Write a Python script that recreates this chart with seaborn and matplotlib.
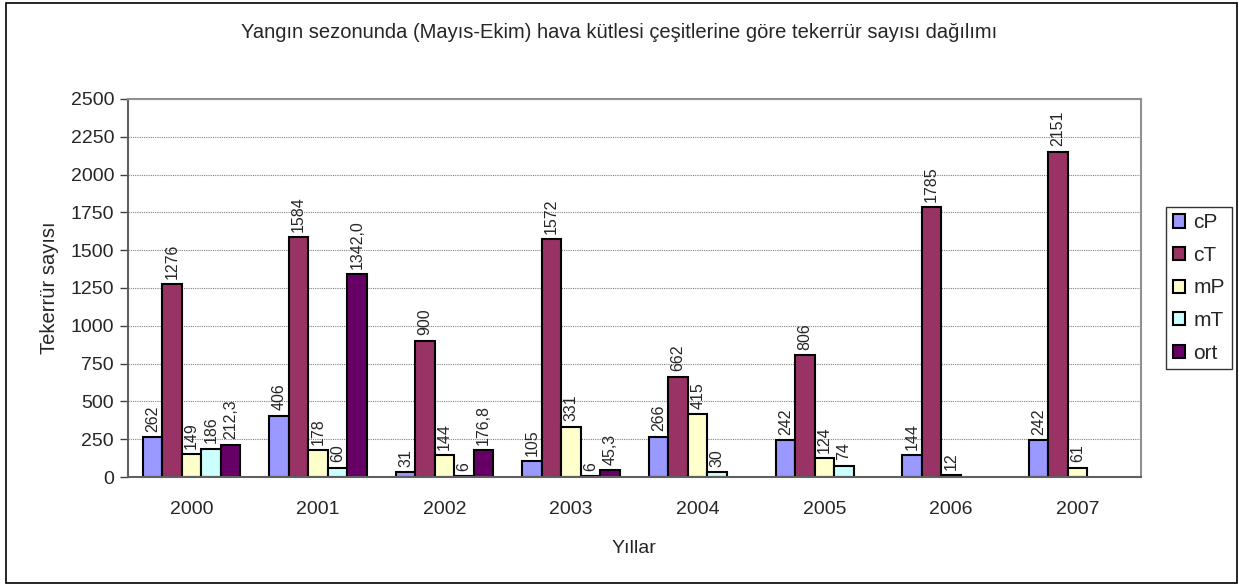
import numpy as np
import pandas as pd
import matplotlib
matplotlib.use("Agg")
import matplotlib.pyplot as plt
from matplotlib.patches import Rectangle
import seaborn as sns

years = ["2000", "2001", "2002", "2003", "2004", "2005", "2006", "2007"]
series = ["cP", "cT", "mP", "mT", "ort"]
cP = [262, 406, 31, 105, 266, 242, 144, 242]
cT = [1276, 1584, 900, 1572, 662, 806, 1785, 2151]
mP = [149, 178, 144, 331, 415, 124, 12, 61]
mT = [186, 60, 6, 6, 30, 74, np.nan, np.nan]
ort = [212.3, 1342.0, 176.8, 45.3, np.nan, np.nan, np.nan, np.nan]
colors = ["#9999FF", "#993366", "#FFFFCC", "#CCFFFF", "#660066"]

values = {"cP": cP, "cT": cT, "mP": mP, "mT": mT, "ort": ort}
rows = []
for s in series:
    for y, v in zip(years, values[s]):
        rows.append({"Yıl": y, "Seri": s, "Değer": v})
df = pd.DataFrame(rows)

sns.set_style("white")
plt.rcParams["font.family"] = ["Liberation Sans", "DejaVu Sans"]

fig = plt.figure(figsize=(12.39, 5.84), dpi=100)
ax = fig.add_axes([0.1033, 0.1832, 0.8175, 0.6473])

sns.barplot(data=df, x="Yıl", y="Değer", hue="Seri", order=years,
            hue_order=series, palette=colors, width=0.77, dodge=True,
            edgecolor="black", linewidth=1.5, errorbar=None, ax=ax,
            saturation=1)

for s, cont in zip(series, ax.containers):
    labels = []
    for p in cont.patches:
        h = p.get_height()
        if s == "ort":
            labels.append(f"{h:.1f}".replace(".", ","))
        else:
            labels.append(f"{int(round(h))}")
    ax.bar_label(cont, labels=labels, rotation=90, padding=4, fontsize=11.5)

ax.set_ylim(0, 2500)
ax.set_xlim(-0.5, 7.5)
ax.set_yticks(np.arange(0, 2501, 250))
ax.yaxis.grid(True, linestyle=(0, (1, 1)), color="#808080", linewidth=0.8)
ax.set_axisbelow(True)
ax.set_xticks(range(8))
ax.set_xticklabels(years)
ax.set_xticks(np.arange(-0.5, 8.0, 1.0), minor=True)
ax.tick_params(axis="x", which="major", length=0, labelsize=14, pad=17)
ax.tick_params(axis="x", which="minor", length=6, width=1, color="#404040", direction="out")
ax.tick_params(axis="y", length=6, width=1, color="#404040", direction="out",
               labelsize=14, left=True, pad=4)
for side in ["left", "bottom"]:
    ax.spines[side].set_color("#606060")
    ax.spines[side].set_linewidth(1.5)
for side in ["top", "right"]:
    ax.spines[side].set_visible(True)
    ax.spines[side].set_color("#909090")
    ax.spines[side].set_linewidth(1.5)

ax.set_xlabel("Yıllar", fontsize=14, labelpad=16)
ax.set_ylabel("Tekerrür sayısı", fontsize=14.5, labelpad=8)

fig.text(0.5, 1 - 32 / 584, "Yangın sezonunda (Mayıs-Ekim) hava kütlesi çeşitlerine göre tekerrür sayısı dağılımı",
         ha="center", va="center", fontsize=14.5)

ax.legend(loc="center left", bbox_to_anchor=(1.0246, 0.5), frameon=True,
          fancybox=False, edgecolor="black", fontsize=15, handlelength=0.6,
          handleheight=0.6, handletextpad=0.4, borderpad=0.33, labelspacing=0.65,
          borderaxespad=0)
ax.get_legend().get_frame().set_linewidth(1.0)

fig.patches.append(Rectangle((6 / 1239, 1 / 584), 1231 / 1239, 580 / 584,
                             transform=fig.transFigure, fill=False,
                             edgecolor="black", linewidth=1.2))

fig.savefig("out.png", dpi=100)
